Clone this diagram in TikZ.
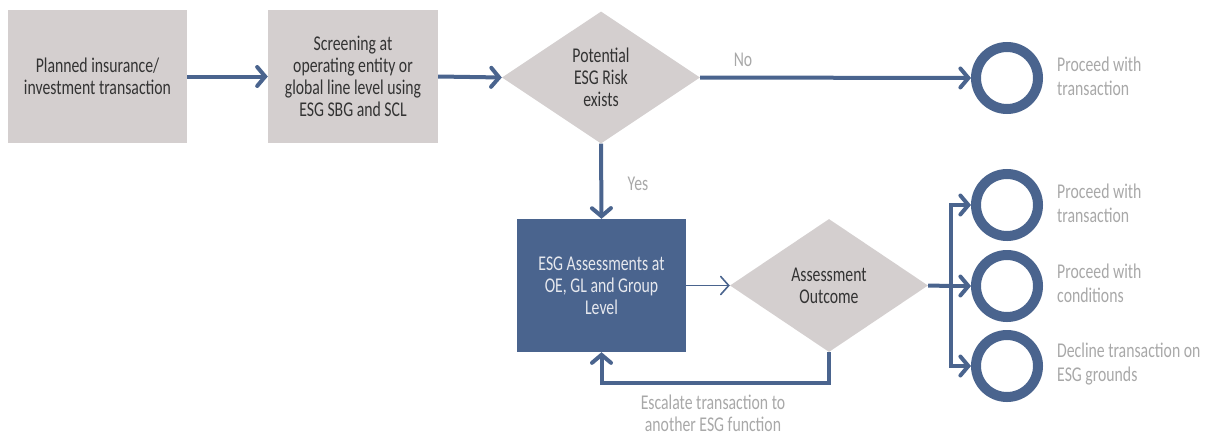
\documentclass[tikz,border=0pt]{standalone}
\usepackage{fontspec}
\setmainfont[FakeStretch=0.75]{Carlito}
\usetikzlibrary{shapes.geometric,arrows.meta}
\definecolor{boxgray}{HTML}{D4CFCF}
\definecolor{ingblue}{HTML}{4A648E}
\definecolor{darktext}{HTML}{333333}
\definecolor{lighttext}{HTML}{A8A8A8}
\definecolor{boxtext}{HTML}{E6E8EE}
\begin{document}
\begin{tikzpicture}[x=1pt,y=-1pt,
  txt/.style={font=\fontsize{21}{22}\selectfont, align=center, inner sep=0pt},
  graybox/.style={txt, fill=boxgray, text=darktext, minimum height=133pt},
  decision/.style={txt, diamond, fill=boxgray, text=darktext, minimum width=198pt, minimum height=132pt},
  bluebox/.style={txt, fill=ingblue, text=boxtext, minimum width=169pt, minimum height=133pt},
  endring/.style={circle, draw=ingblue, line width=10pt, minimum size=62pt, inner sep=0pt},
  sidetext/.style={txt, anchor=west, align=left, text=lighttext, font=\fontsize{21}{24}\selectfont},
  lbl/.style={txt, text=lighttext},
  flow/.style={draw=ingblue, line width=4pt, -{Straight Barb[length=8pt,width=19pt,line cap=round]}},
  flowplain/.style={draw=ingblue, line width=4pt},
  thinflow/.style={draw=ingblue, line width=1.6pt, -{Straight Barb[length=8pt,width=18pt,line cap=round]}}
]
\useasboundingbox (0,0) rectangle (1215,437);

\node[graybox, minimum width=179pt] (b1) at (97.5,76.5) {Planned insurance/\\investment transaction};
\node[graybox, minimum width=170pt] (b2) at (353,76.5) {Screening at\\operating entity or\\global line level using\\ESG SBG and SCL};
\node[decision] (d1) at (601,77.5) {Potential\\ESG Risk\\exists};
\node[endring] (c0) at (1007,78) {};
\node[sidetext] (t0) at (1057,76) {Proceed with\\transaction};

\node[bluebox] (b3) at (601.5,285.5) {ESG Assessments at\\OE, GL and Group\\Level};
\node[decision, minimum height=133pt] (d2) at (829,285.5) {Assessment\\Outcome};

\node[endring] (c1) at (1007,205) {};
\node[endring] (c2) at (1007,286) {};
\node[endring] (c3) at (1007,366) {};
\node[sidetext] (t1) at (1057,203) {Proceed with\\transaction};
\node[sidetext] (t2) at (1057,283) {Proceed with\\conditions};
\node[sidetext] (t3) at (1057,364) {Decline transaction on\\ESG grounds};

\node[lbl] (no) at (743,60) {No};
\node[lbl] (yes) at (638,184) {Yes};
\node[lbl] (esc) at (713,413) {Escalate transaction to\\another ESG function};

\coordinate (j) at (951,286);

\draw[flow] (b1.east) -- (b2.west);
\draw[flow] (b2.east) -- (d1.west);
\draw[flow] (d1.east) -- (c0.west);
\draw[flow] (d1.south) -- (b3.north);
\draw[thinflow] (b3.east) -- (d2.west);
\draw[flowplain] (d2.east) -- (j);
\draw[flow] (j) |- (c1.west);
\draw[flow] (j) -- (c2.west);
\draw[flow] (j) |- (c3.west);
\draw[flow] (d2.south) -- ++(0,31) -| (b3.south);
\end{tikzpicture}
\end{document}
